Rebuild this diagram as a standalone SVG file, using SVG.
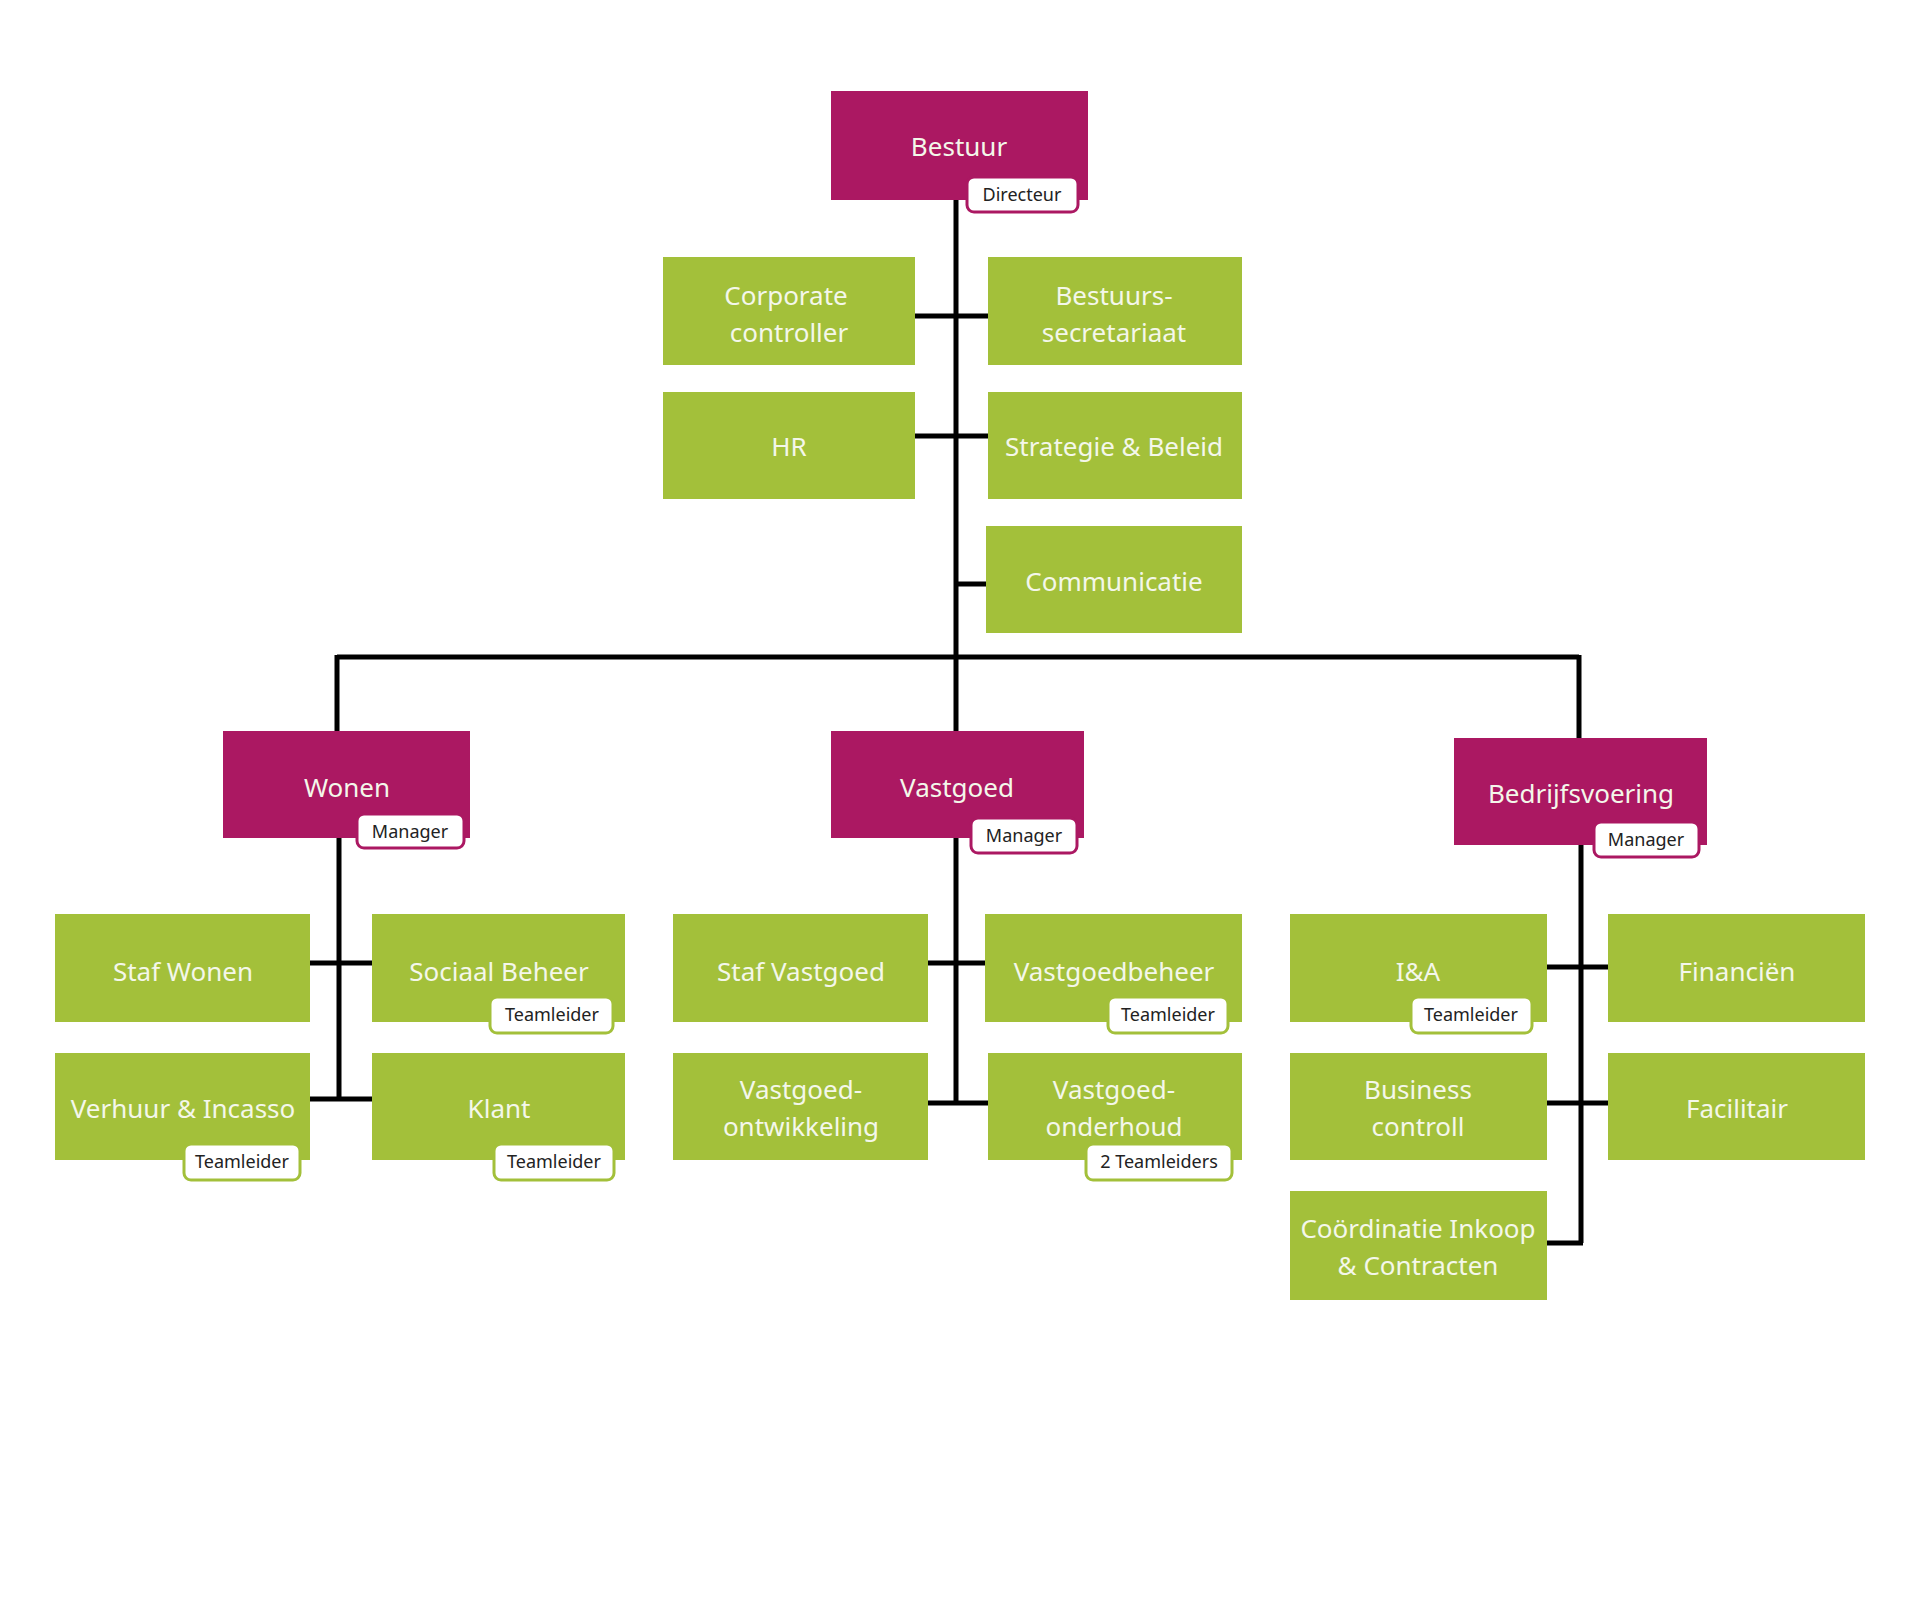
<svg xmlns="http://www.w3.org/2000/svg" width="1919" height="1609" viewBox="0 0 1919 1609">
<style>
.m{fill:#ab1862}
.g{fill:#a3c03a}
.t{font-family:"Noto Sans","Open Sans",sans-serif;font-size:26px;fill:#f4f7ea;text-anchor:middle;dominant-baseline:central}
.bm{fill:#fff;stroke:#ab1862;stroke-width:3}
.bg{fill:#fff;stroke:#a3c03a;stroke-width:3}
.bt{font-family:"Noto Sans","Open Sans",sans-serif;font-size:18px;fill:#222;text-anchor:middle;dominant-baseline:central}
.c{stroke:#000;stroke-width:5;fill:none}
</style>
<rect width="1919" height="1609" fill="#fff"/>
<g id="connectors">
<path class="c" d="M956 200V657M337 657H1579M337 655V731M956 657V731M1579 655V738"/>
<path class="c" d="M915 316H988M915 436H988M956 584H986"/>
<path class="c" d="M339 838V1099M310 963H372M310 1099H372"/>
<path class="c" d="M956 838V1103M928 963H985M928 1103H988"/>
<path class="c" d="M1581 845V1243M1547 967H1608M1547 1103H1608M1547 1243H1583"/>
</g>
<g id="bestuur"><rect class="m" x="831" y="91" width="257" height="109"/><text class="t" x="959" y="146">Bestuur</text><rect class="bm" x="967" y="177" width="111" height="35" rx="7"/><text class="bt" x="1022" y="194">Directeur</text></g>
<g id="corporate-controller"><rect class="g" x="663" y="257" width="252" height="108"/><text class="t" x="786" y="295">Corporate</text><text class="t" x="789" y="332">controller</text></g>
<g id="bestuurssecretariaat"><rect class="g" x="988" y="257" width="254" height="108"/><text class="t" x="1114" y="295">Bestuurs-</text><text class="t" x="1114" y="332">secretariaat</text></g>
<g id="hr"><rect class="g" x="663" y="392" width="252" height="107"/><text class="t" x="789" y="446">HR</text></g>
<g id="strategie"><rect class="g" x="988" y="392" width="254" height="107"/><text class="t" x="1114" y="446">Strategie &amp; Beleid</text></g>
<g id="communicatie"><rect class="g" x="986" y="526" width="256" height="107"/><text class="t" x="1114" y="581">Communicatie</text></g>
<g id="wonen"><rect class="m" x="223" y="731" width="247" height="107"/><text class="t" x="347" y="787">Wonen</text><rect class="bm" x="357" y="814" width="107" height="34" rx="7"/><text class="bt" x="410" y="831">Manager</text></g>
<g id="vastgoed"><rect class="m" x="831" y="731" width="253" height="107"/><text class="t" x="957" y="787">Vastgoed</text><rect class="bm" x="971" y="818" width="106" height="35" rx="7"/><text class="bt" x="1024" y="835">Manager</text></g>
<g id="bedrijfsvoering"><rect class="m" x="1454" y="738" width="253" height="107"/><text class="t" x="1581" y="793">Bedrijfsvoering</text><rect class="bm" x="1594" y="822" width="105" height="35" rx="7"/><text class="bt" x="1646" y="839">Manager</text></g>
<g id="staf-wonen"><rect class="g" x="55" y="914" width="255" height="108"/><text class="t" x="183" y="971">Staf Wonen</text></g>
<g id="sociaal-beheer"><rect class="g" x="372" y="914" width="253" height="108"/><text class="t" x="499" y="971">Sociaal Beheer</text><rect class="bg" x="490" y="997" width="123" height="36" rx="7"/><text class="bt" x="552" y="1014">Teamleider</text></g>
<g id="verhuur-incasso"><rect class="g" x="55" y="1053" width="255" height="107"/><text class="t" x="183" y="1108">Verhuur &amp; Incasso</text><rect class="bg" x="184" y="1144" width="116" height="36" rx="7"/><text class="bt" x="242" y="1161">Teamleider</text></g>
<g id="klant"><rect class="g" x="372" y="1053" width="253" height="107"/><text class="t" x="499" y="1108">Klant</text><rect class="bg" x="494" y="1144" width="120" height="36" rx="7"/><text class="bt" x="554" y="1161">Teamleider</text></g>
<g id="staf-vastgoed"><rect class="g" x="673" y="914" width="255" height="108"/><text class="t" x="801" y="971">Staf Vastgoed</text></g>
<g id="vastgoedbeheer"><rect class="g" x="985" y="914" width="257" height="108"/><text class="t" x="1114" y="971">Vastgoedbeheer</text><rect class="bg" x="1108" y="997" width="120" height="36" rx="7"/><text class="bt" x="1168" y="1014">Teamleider</text></g>
<g id="vastgoed-ontwikkeling"><rect class="g" x="673" y="1053" width="255" height="107"/><text class="t" x="801" y="1089">Vastgoed-</text><text class="t" x="801" y="1126">ontwikkeling</text></g>
<g id="vastgoed-onderhoud"><rect class="g" x="988" y="1053" width="254" height="107"/><text class="t" x="1114" y="1089">Vastgoed-</text><text class="t" x="1114" y="1126">onderhoud</text><rect class="bg" x="1086" y="1144" width="146" height="36" rx="7"/><text class="bt" x="1159" y="1161">2 Teamleiders</text></g>
<g id="ia"><rect class="g" x="1290" y="914" width="257" height="108"/><text class="t" x="1418" y="971">I&amp;A</text><rect class="bg" x="1411" y="997" width="121" height="36" rx="7"/><text class="bt" x="1471" y="1014">Teamleider</text></g>
<g id="financien"><rect class="g" x="1608" y="914" width="257" height="108"/><text class="t" x="1737" y="971">Financiën</text></g>
<g id="business-controll"><rect class="g" x="1290" y="1053" width="257" height="107"/><text class="t" x="1418" y="1089">Business</text><text class="t" x="1418" y="1126">controll</text></g>
<g id="facilitair"><rect class="g" x="1608" y="1053" width="257" height="107"/><text class="t" x="1737" y="1108">Facilitair</text></g>
<g id="coordinatie"><rect class="g" x="1290" y="1191" width="257" height="109"/><text class="t" x="1418" y="1228">Coördinatie Inkoop</text><text class="t" x="1418" y="1265">&amp; Contracten</text></g>
</svg>
